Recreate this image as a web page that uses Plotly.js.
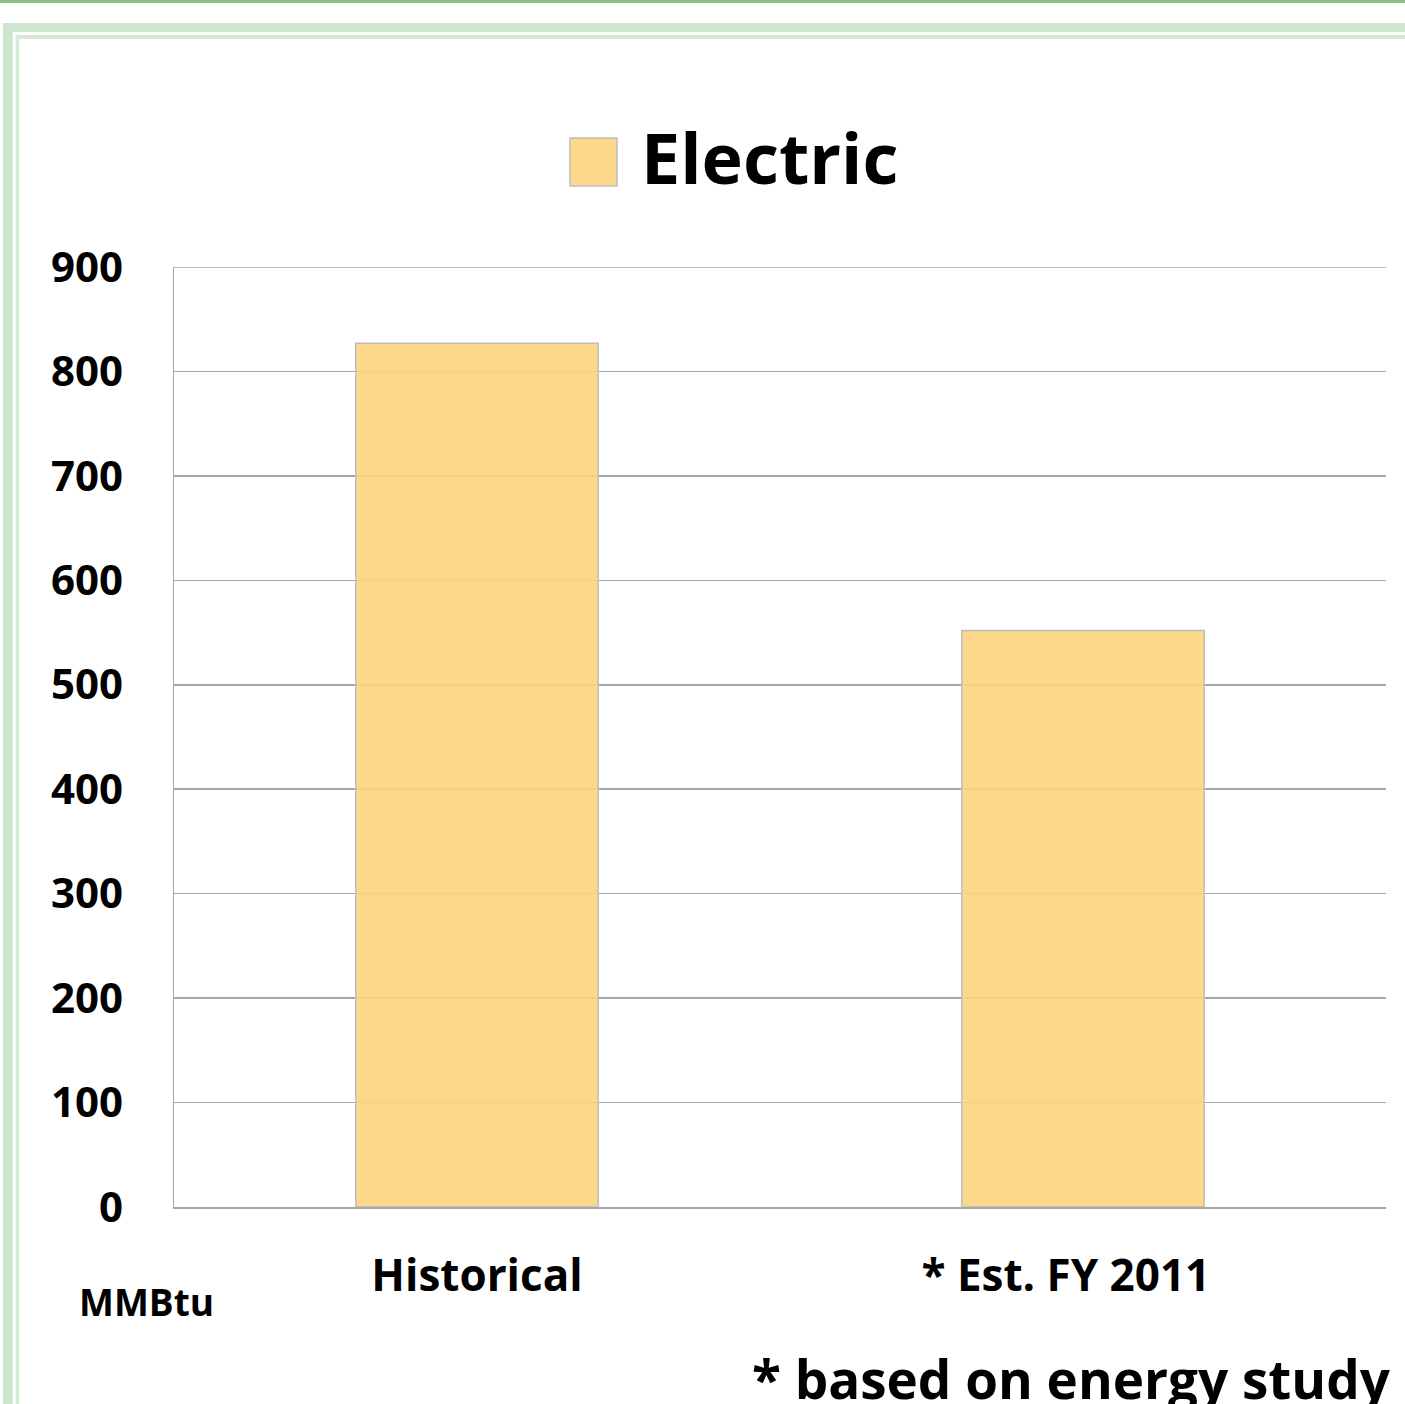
<!DOCTYPE html>
<html>
<head>
<meta charset="utf-8">
<script src="https://cdn.plot.ly/plotly-3.0.1.min.js"></script>
<style>
  html, body { margin: 0; padding: 0; background: #ffffff; }
  #chart { width: 1405px; height: 1404px; }
</style>
</head>
<body>
<div id="chart"></div>
<script>
// ---- data ----
const categories = ["Historical", "* Est. FY 2011"];
const electricValues = [827, 552];
const seriesName = "Electric";
const unitLabel = "MMBtu";
const footnote = "* based on energy study";
const yTickValues = [0, 100, 200, 300, 400, 500, 600, 700, 800, 900];

// ---- layout geometry ----
const W = 1405, H = 1404;
const M = { l: 174, r: 19, t: 267, b: 197 };
const PW = W - M.l - M.r, PH = H - M.t - M.b;
const px = x => (x - M.l) / PW;          // pixel -> paper x
const py = y => (H - M.b - y) / PH;      // pixel -> paper y

const FONT = "Open Sans, Liberation Sans, sans-serif";
const barFill = "rgba(253,212,126,0.9)";
const barLine = "#BDBDBD";
const gridColor = "#A6A6A6";

function rect(x0, y0, x1, y1, color) {
  return { type: "rect", xref: "paper", yref: "paper",
    x0: px(x0), x1: px(x1), y0: py(y1), y1: py(y0),
    fillcolor: color, line: { width: 0 }, layer: "below" };
}

const shapes = [
  rect(0, 0, W, 3, "#86C386"),
  rect(3, 23, W, 32, "#CDE6CD"),
  rect(3, 23, 12.7, H, "#CDE6CD"),
  rect(15.7, 35, W, 39, "#D3EBD3"),
  rect(15.7, 35, 19, H, "#D3EBD3"),
  // top gridline at the axis maximum
  { type: "line", xref: "paper", yref: "y", x0: 0, x1: 1,
    y0: yTickValues[yTickValues.length - 1], y1: yTickValues[yTickValues.length - 1],
    line: { color: gridColor, width: 1.5 }, layer: "below" },
  // legend swatch
  { type: "rect", xref: "paper", yref: "paper",
    x0: px(570), x1: px(617), y0: py(186), y1: py(138),
    fillcolor: "#FDD88A", line: { color: barLine, width: 1.5 } }
];

const annotations = [
  { text: "<b>" + seriesName + "</b>", xref: "paper", yref: "paper",
    x: px(639), y: py(157), xanchor: "left", yanchor: "middle", showarrow: false,
    font: { family: FONT, size: 70, color: "#000" } },
  { text: "<b>" + unitLabel + "</b>", xref: "paper", yref: "paper",
    x: px(146), y: py(1301), xanchor: "center", yanchor: "middle", showarrow: false,
    font: { family: FONT, size: 37, color: "#000" } },
  { text: "<b>" + footnote + "</b>", xref: "paper", yref: "paper",
    x: px(1393), y: py(1378), xanchor: "right", yanchor: "middle", showarrow: false,
    font: { family: FONT, size: 53, color: "#000" } }
];

const trace = {
  type: "bar",
  x: categories,
  y: electricValues,
  name: seriesName,
  marker: { color: barFill, line: { color: barLine, width: 1.5 } },
  showlegend: false,
  hoverinfo: "skip"
};

// second label sits slightly left of its bar centre in the reference
const tickText = categories.map((c, i) => i === 1 ? c + "\u00a0\u00a0\u00a0" : c);

const layout = {
  width: W, height: H,
  margin: M,
  paper_bgcolor: "#ffffff",
  plot_bgcolor: "#ffffff",
  bargap: 0.6,
  showlegend: false,
  xaxis: {
    type: "category",
    tickvals: categories,
    ticktext: tickText,
    showgrid: false,
    showline: true, linecolor: gridColor, linewidth: 1.5,
    ticks: "", ticklabelstandoff: 30,
    tickfont: { family: FONT, size: 44, color: "#000", weight: "bold" },
    zeroline: false, fixedrange: true
  },
  yaxis: {
    range: [0, 900],
    tickvals: yTickValues,
    ticktext: yTickValues.map(String),
    showgrid: true, gridcolor: gridColor, gridwidth: 1.5,
    showline: true, linecolor: gridColor, linewidth: 1.5,
    zeroline: false,
    ticks: "", ticklabelstandoff: 41,
    tickfont: { family: FONT, size: 42, color: "#000", weight: "bold" },
    fixedrange: true
  },
  shapes: shapes,
  annotations: annotations
};

Plotly.newPlot("chart", [trace], layout, { displayModeBar: false, staticPlot: true });
</script>
</body>
</html>
